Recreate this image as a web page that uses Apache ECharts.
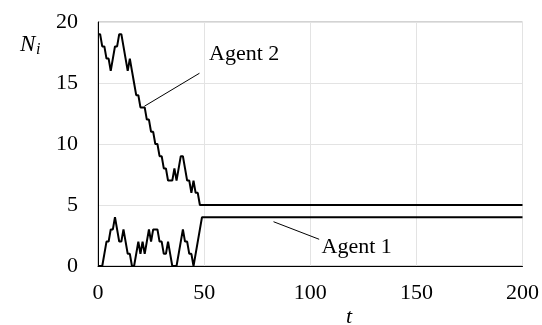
<!DOCTYPE html>
<html>
<head>
<meta charset="utf-8">
<script src="https://cdn.jsdelivr.net/npm/echarts@6/dist/echarts.min.js"></script>
<style>
  html, body { margin: 0; padding: 0; background: #fff; }
  #chart { width: 542px; height: 325px; }
</style>
</head>
<body>
<div id="chart"></div>
<script>
// Number of tokens held by each agent at every time step t = 0..49;
// after that both counts stay fixed until the end of the run.
const agent1 = [0,0,0,1,2,2,3,3,4,3, 2,2,3,2,1,1,0,0,1,2, 1,2,1,2,3,2,3,3,3,2,
                2,1,1,2,1,0,0,0,1,2, 3,2,2,1,1,0,1,2,3,4];
const agent2 = [19,19,18,18,17,17,16,17,18,18, 19,19,18,17,16,17,16,15,14,14,
                13,13,13,12,12,11,11,10,10,9, 9,8,8,7,7,7,8,7,8,9,
                9,8,7,7,6,7,6,6,5,5];
const runEnd = 200;

const xTicks = [0, 50, 100, 150, 200];
const yTicks = [0, 5, 10, 15, 20];

const seriesNames = ['Agent 1', 'Agent 2'];

// Leader lines (data coordinates) and label anchors for the two curves
const leader1 = [[82.7, 3.63], [104.2, 2.19]];
const leader2 = [[21.9, 13.1], [47.8, 15.8]];
const label1At = [105.3, 1.55];
const label2At = [52.3, 17.35];

function toPairs(values) {
  const pts = values.map((v, i) => [i, v]);
  pts.push([runEnd, values[values.length - 1]]);
  return pts;
}

const FONT = '"Liberation Serif", "Times New Roman", serif';
const chart = echarts.init(document.getElementById('chart'), null, { renderer: 'canvas' });

function leader(coords) {
  return {
    silent: true,
    symbol: ['none', 'none'],
    animation: false,
    label: { show: false },
    emphasis: { disabled: true },
    lineStyle: { color: '#000', width: 1, type: 'solid' },
    data: [[{ coord: coords[0] }, { coord: coords[1] }]]
  };
}

chart.setOption({
  animation: false,
  backgroundColor: '#fff',
  grid: {
    left: 98, right: 19, top: 22, bottom: 59,
    show: true, borderColor: '#a6a6a6', borderWidth: 1
  },
  xAxis: {
    type: 'value',
    min: xTicks[0], max: xTicks[xTicks.length - 1],
    interval: xTicks[1] - xTicks[0],
    axisLine: { show: true, lineStyle: { color: '#000', width: 1 } },
    axisTick: { show: false },
    splitLine: { show: true, lineStyle: { color: '#e3e3e3', width: 1 } },
    axisLabel: { fontFamily: FONT, fontSize: 22, color: '#000', margin: 16 }
  },
  yAxis: {
    type: 'value',
    min: yTicks[0], max: yTicks[yTicks.length - 1],
    interval: yTicks[1] - yTicks[0],
    axisLine: { show: true, lineStyle: { color: '#000', width: 1 } },
    axisTick: { show: false },
    splitLine: { show: true, lineStyle: { color: '#e3e3e3', width: 1 } },
    axisLabel: { fontFamily: FONT, fontSize: 22, color: '#000', margin: 20 }
  },
  series: [
    {
      name: seriesNames[0], type: 'line', data: toPairs(agent1),
      showSymbol: false, symbol: 'none',
      lineStyle: { color: '#000', width: 2 },
      markLine: leader(leader1)
    },
    {
      name: seriesNames[1], type: 'line', data: toPairs(agent2),
      showSymbol: false, symbol: 'none',
      lineStyle: { color: '#000', width: 2 },
      markLine: leader(leader2)
    }
  ]
});

const p1 = chart.convertToPixel({ gridIndex: 0 }, label1At);
const p2 = chart.convertToPixel({ gridIndex: 0 }, label2At);

chart.setOption({
  graphic: [
    { type: 'text', x: p1[0], y: p1[1], silent: true,
      style: { text: seriesNames[0], fontFamily: FONT, fontSize: 22, fill: '#000',
               verticalAlign: 'middle', align: 'left' } },
    { type: 'text', x: p2[0], y: p2[1], silent: true,
      style: { text: seriesNames[1], fontFamily: FONT, fontSize: 22, fill: '#000',
               verticalAlign: 'middle', align: 'left' } },
    // y-axis title N_i
    { type: 'text', x: 20, y: 45, silent: true,
      style: { text: 'N', fontFamily: FONT, fontSize: 23, fontStyle: 'italic', fill: '#000',
               verticalAlign: 'middle', align: 'left' } },
    { type: 'text', x: 36, y: 50, silent: true,
      style: { text: 'i', fontFamily: FONT, fontSize: 16, fontStyle: 'italic', fill: '#000',
               verticalAlign: 'middle', align: 'left' } },
    // x-axis title t
    { type: 'text', x: 349, y: 317, silent: true,
      style: { text: 't', fontFamily: FONT, fontSize: 22, fontStyle: 'italic', fill: '#000',
               verticalAlign: 'middle', align: 'center' } }
  ]
});
</script>
</body>
</html>
